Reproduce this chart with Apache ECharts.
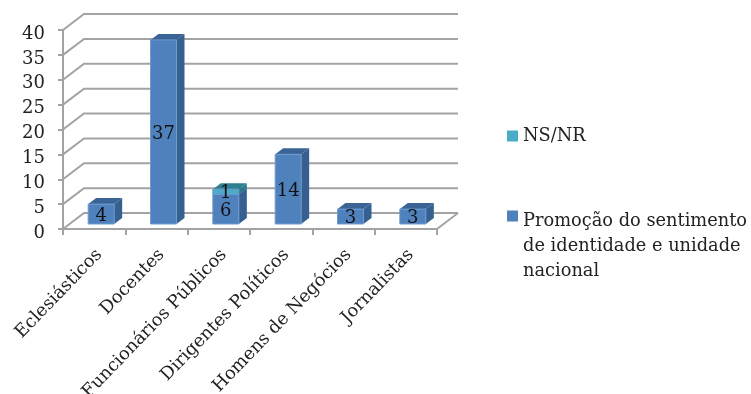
<!DOCTYPE html>
<html><head><meta charset="utf-8">
<style>html,body{margin:0;padding:0;background:#fff}#c{width:751px;height:394px}</style>
<script src="https://cdn.jsdelivr.net/npm/echarts@6/dist/echarts.min.js"></script>
</head><body><div id="c"></div>
<script>
const categories = ['Eclesiásticos','Docentes','Funcionários Públicos','Dirigentes Políticos','Homens de Negócios','Jornalistas'];
const promocao = [4,37,6,14,3,3];
const nsnr = [0,0,1,0,0,0];
const yTicks = [0,5,10,15,20,25,30,35,40];
const nameNsnr = 'NS/NR';
const namePromocao = 'Promoção do sentimento de identidade e unidade nacional';

const FONT = 'DejaVu Serif';
const GRID = '#a3a3a3';
const wall = {dx:21, dy:-16};
const bar = {w:26, shift:7, lift:5, dx:8, dy:-6};

function wallItem(params, api){
  const v = api.value(0);
  const band = api.size([1,0])[0];
  const p = api.coord([0,v]);
  const xl = p[0]-band/2, xr = api.coord([categories.length-1,v])[0]+band/2, y = p[1];
  const st = {stroke:GRID, lineWidth:2, fill:null};
  const kids = [{type:'polyline', shape:{points:[[xl,y],[xl+wall.dx,y+wall.dy],[xr+wall.dx,y+wall.dy]]}, style:st}];
  if(v===0) kids.push({type:'line', shape:{x1:xr,y1:y,x2:xr+wall.dx,y2:y+wall.dy}, style:st});
  return {type:'group', children:kids};
}
function barItem(front, top, side){
  return function(params, api){
    const i = api.value(0), a = api.value(1), b = api.value(2);
    if(b<=a) return null;
    const c = api.coord([i,a]), d = api.coord([i,b]);
    const x0 = c[0]-bar.w/2+bar.shift, x1 = x0+bar.w;
    const yb = c[1]-bar.lift, yt = d[1]-bar.lift;
    return {type:'group', children:[
      {type:'polygon', shape:{points:[[x1,yt],[x1+bar.dx,yt+bar.dy],[x1+bar.dx,yb+bar.dy],[x1,yb]]}, style:{fill:side}},
      {type:'polygon', shape:{points:[[x0,yt],[x1,yt],[x1+bar.dx,yt+bar.dy],[x0+bar.dx,yt+bar.dy]]}, style:{fill:top}},
      {type:'rect', shape:{x:x0,y:yt,width:bar.w,height:yb-yt}, style:{fill:front, stroke:'#6f9bd0', lineWidth:1}},
      {type:'text', z2:20, style:{x:(x0+x1)/2, y:(yb+yt)/2+2, text:String(b-a), fill:'#111', font:'18px "'+FONT+'"', align:'center', verticalAlign:'middle'}}
    ]};
  };
}
const blueData = categories.map((c,i)=>[i,0,promocao[i]]);
const tealData = categories.map((c,i)=>[i,promocao[i],promocao[i]+nsnr[i]]);

const chart = echarts.init(document.getElementById('c'), null, {renderer:'canvas'});
chart.setOption({
  animation:false,
  backgroundColor:'#fff',
  grid:{left:63, top:30, width:374, height:199, outerBoundsMode:'none'},
  xAxis:{type:'category', data:categories,
    axisLine:{lineStyle:{color:GRID,width:2}},
    axisTick:{show:true,length:6,lineStyle:{color:GRID,width:2}},
    axisLabel:{interval:0, rotate:46, margin:18, verticalAlign:'top', lineHeight:14, fontFamily:FONT, fontSize:17.8, color:'#222'}},
  yAxis:{type:'value', min:0, max:40, interval:5,
    axisLine:{show:true,lineStyle:{color:GRID,width:2}},
    axisTick:{show:true,length:5,lineStyle:{color:GRID,width:2}},
    splitLine:{show:false},
    axisLabel:{margin:18, verticalAlign:'top', lineHeight:8, fontFamily:FONT, fontSize:18, color:'#222'}},
  legend:[
    {data:[nameNsnr], left:507, top:124, padding:0, orient:'vertical', icon:'rect', itemWidth:11, itemHeight:11, itemGap:0,
     textStyle:{fontFamily:FONT, fontSize:17.8, color:'#222', lineHeight:24}},
    {data:[namePromocao], left:507, top:209, padding:0, orient:'vertical', itemWidth:11, itemHeight:72, itemGap:0,
     icon:'path://M0,0H11V11H0Z M0,72L0,72',
     formatter:()=>'Promoção do sentimento\nde identidade e unidade\nnacional',
     textStyle:{fontFamily:FONT, fontSize:17.8, color:'#222', lineHeight:25}}
  ],
  series:[
    {type:'custom', name:'wall', silent:true, z:1, data:yTicks.map(v=>[v]), renderItem:wallItem, encode:{y:0}},
    {type:'custom', name:namePromocao, z:3, data:blueData, itemStyle:{color:'#4f81bd'}, encode:{x:0,y:[1,2]},
     renderItem:barItem('#4f81bd','#3a6496','#35608f')},
    {type:'custom', name:nameNsnr, z:4, data:tealData, itemStyle:{color:'#4bacc6'}, encode:{x:0,y:[1,2]},
     renderItem:barItem('#4bacc6','#2e7f8f','#2b7a8c')}
  ]
});
</script></body></html>
